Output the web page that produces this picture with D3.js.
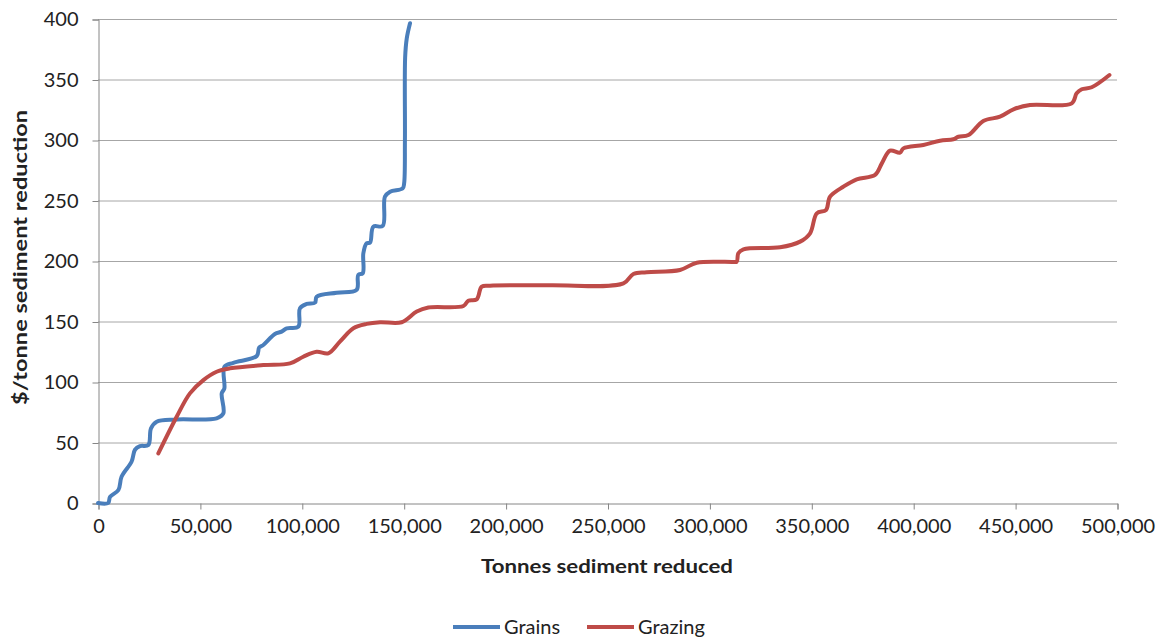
<!DOCTYPE html>
<html>
<head>
<meta charset="utf-8">
<script src="https://cdn.jsdelivr.net/npm/d3@7"></script>
<style>
  html, body { margin: 0; padding: 0; background: #fff; }
  svg { display: block; }
  text { font-family: Lato, "Open Sans", sans-serif; fill: #222; }
</style>
</head>
<body>
<svg id="chart" width="1163" height="639"></svg>
<script>
// ---- Data ----
const grainsX = [0, 5000, 5900, 10000, 11600, 16500, 18150, 20600, 24700, 26000, 28800, 38600, 58200, 61500, 60700, 62000, 62000, 66400, 77900, 79100, 81100, 86800, 90100, 92600, 98300, 99100, 102400, 106500, 107300, 117100, 126900, 127700, 129900, 130200, 131800, 133500, 135100, 139700, 140800, 143300, 149500, 150200, 150600, 150700, 151500, 153100];
const grainsY = [0, 0, 5, 10.7, 21.9, 34.3, 44, 47, 47.9, 61.7, 67.2, 69, 70, 74, 90.6, 94.7, 112.6, 115.9, 121.5, 128.6, 130.6, 139.7, 141.6, 144.4, 145.7, 160.9, 164.5, 165.6, 170.5, 173.8, 176.1, 188.5, 189.9, 206.4, 214.7, 215.2, 228.4, 229, 253.2, 257.3, 260, 264, 300, 368, 384, 396.5];

const grazingX = [29600, 38600, 45100, 51700, 58200, 64800, 81100, 94200, 100700, 107300, 113000, 118700, 125300, 131800, 138400, 149000, 156400, 162100, 179300, 181700, 185800, 188300, 192400, 221800, 257800, 262700, 269200, 285600, 293800, 311700, 313400, 314200, 316700, 334700, 344500, 349400, 352700, 357200, 359200, 365700, 372300, 381300, 384600, 388600, 393500, 395200, 405000, 413200, 419700, 422200, 427100, 434400, 442600, 449200, 457300, 477800, 480200, 482700, 487600, 496300];
const grazingY = [41, 71.3, 90.6, 101.6, 108.5, 111.3, 114, 115.4, 120.9, 125, 123.7, 133.4, 144.4, 148, 149.4, 149.4, 158.2, 161.5, 162.8, 167.2, 168.3, 178.8, 179.6, 180, 181.5, 189.3, 190.7, 192.6, 198.6, 199.2, 199.4, 206.4, 209.6, 211.3, 216, 222.9, 239.4, 242.1, 253.2, 261.4, 267.5, 271.1, 280.7, 291.2, 289.5, 293.1, 295.9, 299.4, 300.6, 302.7, 304.1, 315.7, 319.3, 325.4, 328.9, 330.3, 338.6, 341.9, 343.6, 353.7];

const xTicks = [0, 50000, 100000, 150000, 200000, 250000, 300000, 350000, 400000, 450000, 500000];
const yTicks = [0, 50, 100, 150, 200, 250, 300, 350, 400];
const seriesNames = ["Grains", "Grazing"];
const seriesColors = ["#4A7EBB", "#BE4B48"];
const xTitle = "Tonnes sediment reduced";
const yTitle = "$/tonne sediment reduction";

// ---- Layout ----
const svg = d3.select("#chart");
const L = 98, R = 1117, T = 19, B = 503;

const x = d3.scaleLinear().domain([0, 500000]).range([L, R]);
const y = d3.scaleLinear().domain([0, 400]).range([B, T]);

// gridlines
svg.append("g").selectAll("line").data(yTicks.filter(d => d > 0)).join("line")
  .attr("x1", L).attr("x2", R)
  .attr("y1", d => y(d) + 0.5).attr("y2", d => y(d) + 0.5)
  .attr("stroke", "#a6a6a6").attr("stroke-width", 1);

// y axis
const yAxis = d3.axisLeft(y).tickValues(yTicks).tickSize(6).tickPadding(14).tickFormat(d3.format("d"));
const gy = svg.append("g").attr("transform", `translate(${L + 0.5},0.5)`).call(yAxis);
gy.select(".domain").attr("stroke", "#868686");
gy.selectAll(".tick line").attr("stroke", "#868686");
gy.selectAll(".tick text").attr("font-size", 20).attr("fill", "#333")
  .attr("font-family", "Lato, 'Open Sans', sans-serif");

// x axis
const xAxis = d3.axisBottom(x).tickValues(xTicks).tickSize(6).tickPadding(9).tickFormat(d3.format(","));
const gx = svg.append("g").attr("transform", `translate(0.5,${B + 0.5})`).call(xAxis);
gx.select(".domain").attr("stroke", "#868686");
gx.selectAll(".tick line").attr("stroke", "#868686");
gx.selectAll(".tick text").attr("font-size", 20).attr("fill", "#333")
  .attr("font-family", "Lato, 'Open Sans', sans-serif");

// titles
svg.append("text").attr("x", 607).attr("y", 573).attr("text-anchor", "middle")
  .attr("font-size", 19).attr("font-weight", "bold").attr("fill", "#111")
  .attr("textLength", 252).attr("lengthAdjust", "spacingAndGlyphs")
  .text(xTitle);
svg.append("text").attr("transform", "translate(27,257.5) rotate(-90)").attr("text-anchor", "middle")
  .attr("font-size", 19).attr("font-weight", "bold").attr("fill", "#111")
  .attr("textLength", 295).attr("lengthAdjust", "spacingAndGlyphs")
  .text(yTitle);

// lines
const line = d3.line().x(d => x(d[0])).y(d => y(d[1])).curve(d3.curveCatmullRom.alpha(0.5));
const series = [
  grainsX.map((v, i) => [v, grainsY[i]]),
  grazingX.map((v, i) => [v, grazingY[i]])
];
series.forEach((s, i) => {
  svg.append("path").datum(s).attr("d", line)
    .attr("fill", "none").attr("stroke", seriesColors[i])
    .attr("stroke-width", 4).attr("stroke-linejoin", "round").attr("stroke-linecap", "round");
});

// legend
const legendPos = [[453, 504], [587, 638]];
seriesNames.forEach((n, i) => {
  svg.append("line").attr("x1", legendPos[i][0]).attr("x2", legendPos[i][0] + 47)
    .attr("y1", 627).attr("y2", 627).attr("stroke", seriesColors[i]).attr("stroke-width", 4);
  svg.append("text").attr("x", legendPos[i][1]).attr("y", 633.5)
    .attr("font-size", 20).attr("fill", "#333").text(n);
});
</script>
</body>
</html>
